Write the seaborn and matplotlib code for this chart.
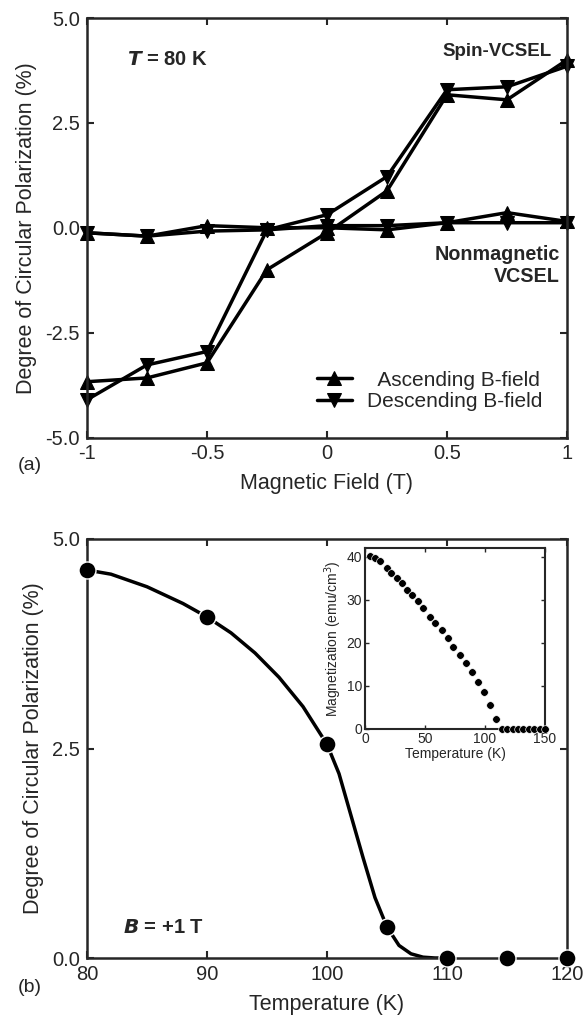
import matplotlib
matplotlib.use("Agg")
import matplotlib.pyplot as plt
import seaborn as sns
import pandas as pd

# panel (a): degree of circular polarization vs magnetic field at T = 80 K
field = [-1, -0.75, -0.5, -0.25, 0, 0.25, 0.5, 0.75, 1]
spin_asc = [-3.67, -3.58, -3.22, -1.0, -0.12, 0.88, 3.17, 3.05, 4.0]
spin_desc = [-4.1, -3.27, -2.95, -0.05, 0.31, 1.22, 3.29, 3.36, 3.85]
nonmag_asc = [-0.12, -0.2, 0.05, 0.0, 0.0, -0.05, 0.12, 0.36, 0.15]
nonmag_desc = [-0.12, -0.2, -0.08, -0.05, 0.05, 0.05, 0.12, 0.12, 0.12]

# panel (b): polarization vs temperature at B = +1 T
temp = [80, 90, 100, 105, 110, 115, 120]
pol = [4.63, 4.07, 2.55, 0.37, 0.0, 0.0, 0.0]
# guide curve
curve_t = [80, 82, 85, 88, 90, 92, 94, 96, 98, 100, 101, 102, 103, 104, 105, 106, 107, 108, 109, 110]
curve_p = [4.63, 4.58, 4.43, 4.23, 4.07, 3.88, 3.64, 3.35, 3.0, 2.55, 2.2, 1.7, 1.2, 0.72, 0.37, 0.15, 0.05, 0.01, 0.0, 0.0]

# inset: magnetization vs temperature
mag_t = [4, 8, 12.3, 18, 22, 26.4, 30.6, 34.7, 38.9, 44.4, 48.6, 54.2, 58.3, 63.9, 69.4, 73.6,
         79.2, 84.2, 88.9, 93.9, 99.2, 104.2, 109.2, 114, 118.5, 123, 127.5, 132, 136.5, 141, 145.5, 150]
mag_m = [40.2, 39.7, 39.0, 37.4, 36.2, 35.0, 33.9, 32.3, 31.2, 29.6, 28.1, 26.1, 24.6, 23.0, 21.1, 19.1,
         17.2, 15.3, 13.3, 11.0, 8.7, 5.6, 2.3, 0, 0, 0, 0, 0, 0, 0, 0, 0]

sns.set_style("ticks")
plt.rcParams["font.family"] = ["Liberation Sans", "DejaVu Sans"]
plt.rcParams["xtick.direction"] = "in"
plt.rcParams["ytick.direction"] = "in"

fig = plt.figure(figsize=(5.86, 10.19), dpi=100)
W, H = 586, 1019
ax1 = fig.add_axes([87 / W, 1 - 437.5 / H, 480 / W, 419.5 / H])
ax2 = fig.add_axes([87 / W, 1 - 958 / H, 480 / W, 419 / H])

lw = 2.5
ms = 10.5
df_a = pd.DataFrame({"field": field, "sa": spin_asc, "sd": spin_desc, "na": nonmag_asc, "nd": nonmag_desc})
sns.lineplot(data=df_a, x="field", y="sa", ax=ax1, color="black", lw=lw, marker="^", ms=ms,
             mec="black", label="Ascending B-field", clip_on=False)
sns.lineplot(data=df_a, x="field", y="sd", ax=ax1, color="black", lw=lw, marker="v", ms=ms,
             mec="black", label="Descending B-field", clip_on=False)
sns.lineplot(data=df_a, x="field", y="na", ax=ax1, color="black", lw=lw, marker="^", ms=ms,
             mec="black", legend=False, clip_on=False)
sns.lineplot(data=df_a, x="field", y="nd", ax=ax1, color="black", lw=lw, marker="v", ms=ms,
             mec="black", legend=False, clip_on=False)

ax1.set_xlim(-1, 1)
ax1.set_ylim(-5, 5)
ax1.set_xticks([-1, -0.5, 0, 0.5, 1])
ax1.set_xticklabels(["-1", "-0.5", "0", "0.5", "1"])
ax1.set_yticks([-5, -2.5, 0, 2.5, 5])
ax1.set_yticklabels(["-5.0", "-2.5", "0.0", "2.5", "5.0"])
ax1.set_xlabel("Magnetic Field (T)", fontsize=15.5, labelpad=7)
ax1.set_ylabel("Degree of Circular Polarization (%)", fontsize=15.5, labelpad=6)
ax1.legend(loc="lower right", frameon=False, fontsize=15, handlelength=1.7, handletextpad=0.7,
           borderpad=0, borderaxespad=0, labelspacing=0.12,
           bbox_to_anchor=((542 - 87) / 480, (437.5 - 411) / 419.5))
ax1.legend_.texts[0].set_text("  Ascending B-field")
ax1.text(0.083, 0.90, r"$\bfit{T}$ = 80 K", transform=ax1.transAxes, fontsize=14.5,
         fontweight="bold", va="center")
ax1.text(0.969, 0.919, "Spin-VCSEL", transform=ax1.transAxes, fontsize=13.5, fontweight="bold",
         ha="right", va="center")
ax1.text(0.985, 0.41, "Nonmagnetic\nVCSEL", transform=ax1.transAxes, fontsize=14.2, fontweight="bold",
         ha="right", va="center", multialignment="right", linespacing=1.15)
fig.text(18 / W, 1 - 466 / H, "(a)", fontsize=14, va="center")

df_b = pd.DataFrame({"temp": temp, "pol": pol})
df_c = pd.DataFrame({"t": curve_t, "p": curve_p})
sns.lineplot(data=df_c, x="t", y="p", ax=ax2, color="black", lw=lw)
sns.scatterplot(data=df_b, x="temp", y="pol", ax=ax2, color="black", s=150, zorder=5, clip_on=False)
ax2.set_xlim(80, 120)
ax2.set_ylim(0, 5)
ax2.set_xticks([80, 90, 100, 110, 120])
ax2.set_yticks([0, 2.5, 5])
ax2.set_yticklabels(["0.0", "2.5", "5.0"])
ax2.set_xlabel("Temperature (K)", fontsize=15.5, labelpad=7)
ax2.set_ylabel("Degree of Circular Polarization (%)", fontsize=15.5, labelpad=6)
ax2.text(0.075, 0.072, r"$\bfit{B}$ = +1 T", transform=ax2.transAxes, fontsize=14.5,
         fontweight="bold", va="center")
fig.text(18 / W, 1 - 988 / H, "(b)", fontsize=14, va="center")

for ax in (ax1, ax2):
    ax.tick_params(top=True, right=True, labelsize=14.5, length=5, width=1.5, pad=5)
    for s in ax.spines.values():
        s.set_linewidth(1.8)

# inset
ax3 = fig.add_axes([365 / W, 1 - 729 / H, 180 / W, 181 / H])
df_m = pd.DataFrame({"t": mag_t, "m": mag_m})
sns.scatterplot(data=df_m, x="t", y="m", ax=ax3, color="black", s=30, zorder=5, clip_on=False)
ax3.set_xlim(0, 150)
ax3.set_ylim(0, 42)
ax3.set_xticks([0, 50, 100, 150])
ax3.set_yticks([0, 10, 20, 30, 40])
ax3.set_xlabel("Temperature (K)", fontsize=10, labelpad=1)
ax3.set_ylabel("Magnetization (emu/cm$^3$)", fontsize=10, labelpad=2)
ax3.tick_params(top=True, right=True, labelsize=10, length=3, width=1, pad=2)
for s in ax3.spines.values():
    s.set_linewidth(1.5)

fig.savefig("out.png", dpi=100)
